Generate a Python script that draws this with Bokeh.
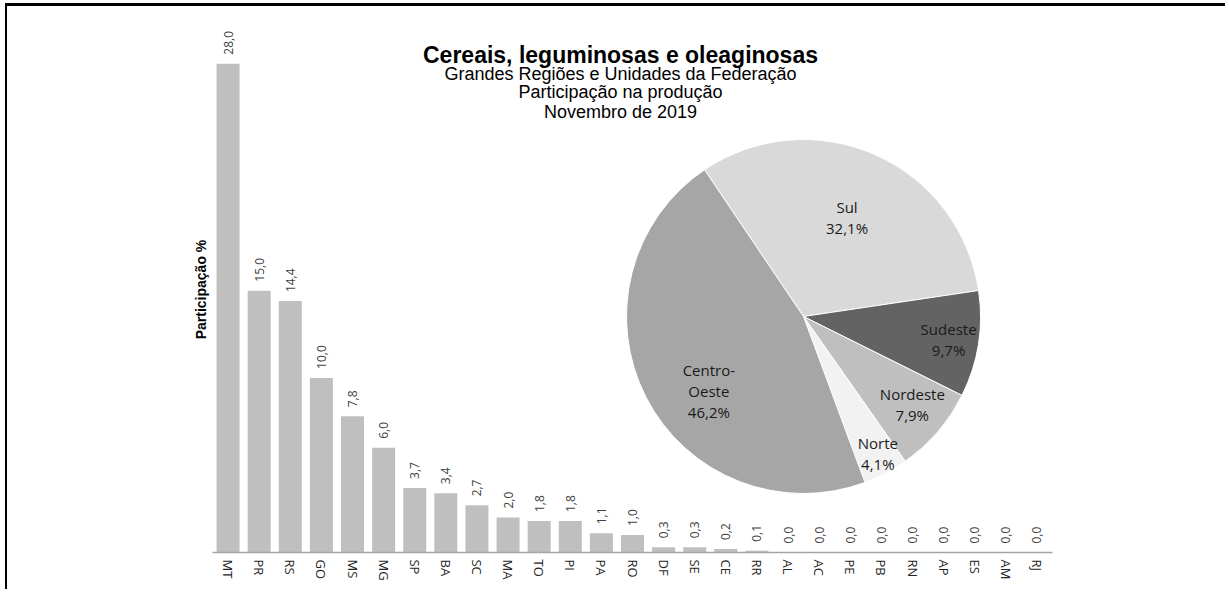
import numpy as np
from bokeh.plotting import figure
from bokeh.models import Range1d, ColumnDataSource, FixedTicker
from bokeh.core.properties import value
from bokeh.embed import file_html
from bokeh.resources import INLINE

# ---------------- data ----------------
states = ["MT", "PR", "RS", "GO", "MS", "MG", "SP", "BA", "SC", "MA", "TO", "PI", "PA", "RO",
          "DF", "SE", "CE", "RR", "AL", "AC", "PE", "PB", "RN", "AP", "ES", "AM", "RJ"]
state_shares = [28.0, 15.0, 14.4, 10.0, 7.8, 6.0, 3.7, 3.4, 2.7, 2.0, 1.8, 1.8, 1.1, 1.0,
                0.3, 0.3, 0.2, 0.1, 0.0, 0.0, 0.0, 0.0, 0.0, 0.0, 0.0, 0.0, 0.0]

regions = ["Sul", "Sudeste", "Nordeste", "Norte", "Centro-Oeste"]
region_names = ["Sul", "Sudeste", "Nordeste", "Norte", "Centro-\nOeste"]
region_shares = [32.1, 9.7, 7.9, 4.1, 46.2]

title = "Cereais, leguminosas e oleaginosas"
subtitles = ["Grandes Regiões e Unidades da Federação",
             "Participação na produção",
             "Novembro de 2019"]
y_label = "Participação %"

# ---------------- styles ----------------
region_colors = ["#d9d9d9", "#636363", "#bfbfbf", "#f2f2f2", "#a6a6a6"]
label_r = [0.61, 0.83, 0.79, 0.88, 0.68]
label_dang = [0.0, 0.0, 1.8, 0.8, 11.0]
pie_start_deg = 124.0

idx = list(range(len(states)))

# canvas origin on the page (css margin); shadows draw the page frame lines
OX, OY = 7, 6
W, H = 1225 - OX, 589 - OY
FL, FR, FT, FB = 212, 1052, 26, 552   # plot frame in page pixels

p = figure(width=W, height=H,
           x_range=Range1d(-0.5, len(states) - 0.5),
           y_range=Range1d(0, 30.13),
           output_backend="svg", toolbar_location=None,
           min_border_left=FL - OX, min_border_right=OX + W - FR,
           min_border_top=FT - OY, min_border_bottom=OY + H - FB)
p.styles = {"margin-left": f"{OX}px", "margin-top": f"{OY}px",
            "background-color": "#ffffff",
            "box-shadow": "0px -3px 0px 0px #000000, -2px 0px 0px 0px #000000, -2px -3px 0px 0px #000000"}
p.outline_line_color = None
p.xgrid.visible = False
p.ygrid.visible = False
p.background_fill_color = "white"
p.border_fill_color = "white"

# x axis
xa = p.xaxis[0]
xa.ticker = FixedTicker(ticks=idx)
xa.major_label_overrides = {i: s for i, s in zip(idx, states)}
xa.major_label_orientation = "vertical"
xa.major_tick_line_color = None
xa.minor_tick_line_color = None
xa.major_tick_out = 0
xa.major_tick_in = 0
xa.major_label_standoff = 7
xa.axis_line_color = "#a6a6a6"
xa.axis_line_width = 1.5
xa.major_label_text_font = "Open Sans"
xa.major_label_text_font_size = "13px"
xa.major_label_text_color = "#262626"

# y axis (label only)
ya = p.yaxis[0]
ya.ticker = FixedTicker(ticks=[])
ya.major_tick_line_color = None
ya.minor_tick_line_color = None
ya.axis_line_color = None
ya.axis_label = y_label
ya.axis_label_text_font = "Liberation Sans"
ya.axis_label_text_font_style = "bold"
ya.axis_label_text_font_size = "14px"
ya.axis_label_text_color = "#000000"
ya.axis_label_standoff = 4

src = ColumnDataSource(dict(
    i=idx, state=states, share=state_shares,
    label=[f"{v:.1f}".replace(".", ",") for v in state_shares]))
p.vbar(x="i", top="share", width=0.74, source=src,
       fill_color="#bfbfbf", line_color=None)
p.text(x="i", y="share", text="label", source=src,
       angle=np.pi / 2, text_align="left", text_baseline="middle", y_offset=-9,
       text_font=value("Open Sans"), text_font_size="12px", text_color="#404040")

# ---------------- pie ----------------
R = 177.0
cx, cy = 803.0, 316.0
p.extra_x_ranges = {"pie": Range1d((FL - cx) / R, (FR - cx) / R),
                    "page": Range1d(FL, FR)}
p.extra_y_ranges = {"pie": Range1d(-(FB - cy) / R, (cy - FT) / R),
                    "page": Range1d(FB, FT)}

frac = np.array(region_shares) / np.sum(region_shares)
theta0 = np.deg2rad(pie_start_deg)
ends = theta0 - 2 * np.pi * np.cumsum(frac)
starts = ends + 2 * np.pi * frac
mid = (starts + ends) / 2 + np.deg2rad(label_dang)
pie_src = ColumnDataSource(dict(
    region=regions, start=ends, end=starts, color=region_colors,
    lx=np.array(label_r) * np.cos(mid), ly=np.array(label_r) * np.sin(mid),
    txt=[f"{n}\n{v:.1f}%".replace(".", ",") for n, v in zip(region_names, region_shares)]))
p.wedge(x=0, y=0, radius=1, start_angle="start", end_angle="end", source=pie_src,
        fill_color="color", line_color="white", line_width=1,
        x_range_name="pie", y_range_name="pie")
p.text(x="lx", y="ly", text="txt", source=pie_src,
       text_align="center", text_baseline="middle", text_line_height=1.05,
       text_font=value("Open Sans"), text_font_size="15px", text_color="#1a1a1a",
       x_range_name="pie", y_range_name="pie")

# ---------------- titles ----------------
p.text(x=[620], y=[54], text=[title], text_align="center", text_baseline="alphabetic",
       text_font=value("Liberation Sans"), text_font_style="bold", text_font_size="23px",
       text_color="#000000", x_range_name="page", y_range_name="page")
p.text(x=[620, 620, 620], y=[73, 91.5, 111], text=subtitles, text_align="center",
       text_baseline="alphabetic", text_font=value("Liberation Sans"),
       text_font_size="18px", text_color="#000000",
       x_range_name="page", y_range_name="page")

open("out.html", "w").write(file_html(p, INLINE))
